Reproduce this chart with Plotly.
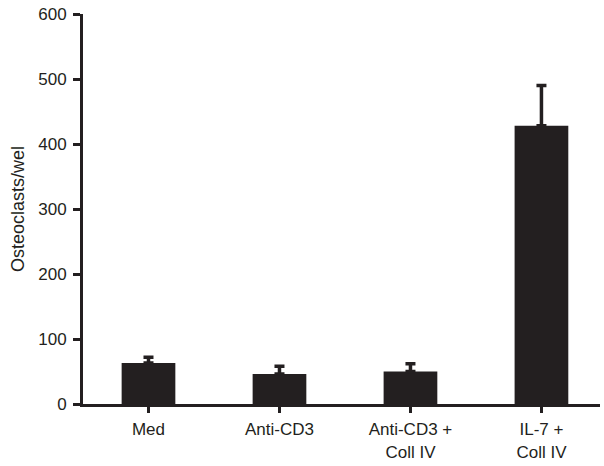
import plotly.graph_objects as go

categories = ["Med", "Anti-CD3", "Anti-CD3 +<br>Coll IV", "IL-7 +<br>Coll IV"]
values = [63, 46, 50, 428]
errors = [9, 12, 12, 62]
y_ticks = [0, 100, 200, 300, 400, 500, 600]

dark = "#231f20"
font = dict(family="Liberation Sans, Arial, sans-serif", size=17, color=dark)

fig = go.Figure(go.Bar(
    x=list(range(len(categories))), y=values, width=0.41,
    marker=dict(color=dark, line=dict(width=0)),
    error_y=dict(type="data", array=errors, arrayminus=[0]*len(errors),
                 symmetric=False, color=dark, thickness=3.5, width=5),
))

fig.update_layout(
    width=604, height=466,
    margin=dict(l=83, r=4, t=14, b=58),
    paper_bgcolor="white", plot_bgcolor="white",
    font=font, showlegend=False,
    xaxis=dict(range=[-0.5, 3.447], tickmode="array",
               tickvals=list(range(len(categories))), ticktext=categories,
               showline=True, linecolor=dark, linewidth=3,
               showgrid=False, zeroline=False,
               ticks="outside", ticklen=6, tickwidth=3, tickcolor=dark,
               tickson="boundaries", ticklabelstandoff=2),
    yaxis=dict(range=[0, 600], tickvals=y_ticks,
               showline=True, linecolor=dark, linewidth=3,
               showgrid=False, zeroline=False,
               ticks="outside", ticklen=7, tickwidth=3, tickcolor=dark,
               ticklabelstandoff=3,
               title=dict(text="Osteoclasts/wel", standoff=9, font=dict(size=18))),
)

fig.write_html("out.html", config={"displayModeBar": False},
               post_script="document.body.style.margin='0';")
